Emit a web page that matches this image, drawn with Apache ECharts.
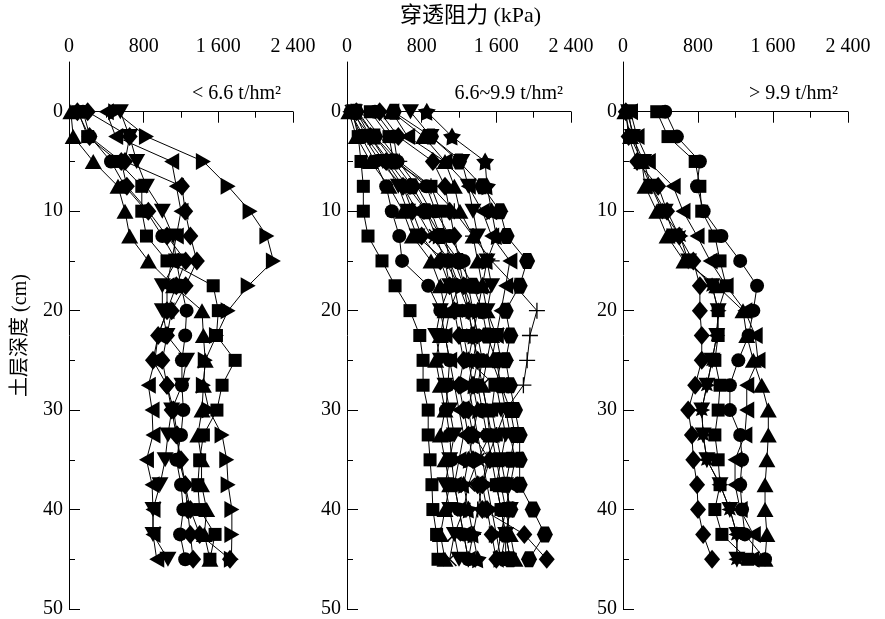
<!DOCTYPE html>
<html>
<head>
<meta charset="utf-8">
<script src="https://cdn.jsdelivr.net/npm/echarts@6/dist/echarts.min.js"></script>
<style>
  html, body { margin: 0; padding: 0; background: #fff; }
  #main { width: 885px; height: 619px; }
</style>
</head>
<body>
<div id="main"></div>
<script>
// 深度 (cm)
var depth = [0, 2.5, 5, 7.5, 10, 12.5, 15, 17.5, 20, 22.5, 25, 27.5, 30, 32.5, 35, 37.5, 40, 42.5, 45];
var panelTitles = ['< 6.6 t/hm²', '6.6~9.9 t/hm²', '> 9.9 t/hm²'];

// 第一组 < 6.6 t/hm2 ---------------
var p1Up      = [20, 45, 260, 525, 600, 650, 850, 1120, 1425, 1440, 1460, 1440, 1425, 1380, 1420, 1420, 1475, 1450, 1510];
var p1Rect    = [100, 200, 525, 780, 780, 830, 1050, 1545, 1600, 1580, 1780, 1640, 1585, 1440, 1400, 1380, 1400, 1565, 1510];
var p1Circle  = [150, 225, 450, 600, 830, 1000, 1150, 1200, 1260, 1245, 1210, 1210, 1225, 1200, 1150, 1200, 1225, 1190, 1245];
var p1Diamond = [200, 650, 600, 1210, 1245, 1300, 1370, 1250, 1100, 1050, 1000, 1050, 1100, 1150, 1200, 1245, 1300, 1400, 1725];
var p1Diamond2 = [90, 220, 560, 620, 850, 1050, 1250, 1150, 1050, 955, 900, 1050, 1120, 1160, 1180, 1245, 1270, 1300, 1330];
var p1Down    = [550, 650, 725, 830, 1000, 1115, 1150, 1000, 1000, 1050, 1260, 1210, 1100, 1060, 1030, 975, 900, 900, 1060];
var p1Left    = [400, 500, 1100, 1150, 1200, 1150, 1100, 1050, 1050, 955, 920, 850, 890, 900, 830, 890, 900, 900, 940];
var p1Right   = [500, 830, 1440, 1705, 1940, 2120, 2190, 1920, 1705, 1580, 1460, 1440, 1500, 1640, 1690, 1705, 1745, 1745, 1740];

// 第二组 6.6~9.9 t/hm2 ---------------
var p2Rect     = [60, 120, 150, 175, 175, 225, 375, 515, 675, 780, 815, 815, 870, 870, 890, 910, 920, 960, 975];
var p2Circle   = [40, 150, 300, 420, 480, 560, 590, 870, 1000, 1050, 1100, 1080, 1060, 1100, 1120, 1150, 1200, 1250, 1300];
var p2Diamond  = [100, 250, 420, 600, 700, 800, 1000, 1100, 1150, 1200, 1250, 1200, 1250, 1300, 1350, 1400, 1450, 1900, 2140];
var p2Up       = [480, 820, 1050, 1150, 1210, 1350, 1400, 1450, 1500, 1550, 1500, 1450, 1500, 1550, 1600, 1650, 1700, 1750, 1800];
var p2Down     = [680, 900, 1230, 1300, 1350, 1400, 1500, 1550, 1500, 1600, 1650, 1600, 1650, 1700, 1650, 1700, 1750, 1700, 1650];
var p2Left     = [480, 650, 1050, 1300, 1450, 1550, 1745, 1700, 1650, 1600, 1550, 1650, 1700, 1750, 1800, 1750, 1700, 1650, 1600];
var p2Star     = [855, 1125, 1480, 1500, 1550, 1600, 1500, 1450, 1400, 1350, 1300, 1350, 1400, 1350, 1300, 1250, 1300, 1350, 1400];
var p2Hex      = [500, 900, 1200, 1450, 1640, 1710, 1930, 1850, 1700, 1750, 1700, 1745, 1800, 1850, 1850, 1850, 1990, 2120, 1950];
var p2Plus     = [150, 350, 560, 900, 1150, 1350, 1550, 1800, 2035, 1960, 1930, 1890, 1700, 1600, 1500, 1450, 1400, 1350, 1300];
var p2Rect2    = [250, 450, 500, 900, 1000, 1050, 1100, 1150, 1200, 1250, 1300, 1585, 1550, 1600, 1650, 1600, 1650, 1700, 1750];
var p2Circle2  = [300, 500, 540, 850, 950, 1100, 1250, 1300, 1350, 1400, 1450, 1400, 1450, 1500, 1550, 1600, 1650, 1700, 1700];
var p2Diamond2 = [350, 550, 920, 1050, 1100, 1150, 1200, 1250, 1300, 1350, 1400, 1350, 1300, 1350, 1530, 1450, 1500, 1550, 1600];
var p2Up2      = [20, 100, 250, 450, 600, 700, 900, 1000, 1050, 1000, 950, 1000, 1050, 1000, 1050, 1100, 1050, 1000, 1050];
var p2Down2    = [80, 200, 400, 550, 650, 750, 1050, 1100, 1000, 950, 1000, 1050, 1100, 1150, 1100, 1050, 1100, 1150, 1200];
var p2Left2    = [30, 180, 350, 600, 750, 900, 1100, 1200, 1100, 1050, 1100, 1150, 1200, 1250, 1200, 1150, 1200, 1250, 1300];
var p2Right    = [120, 300, 550, 750, 900, 1000, 1150, 1250, 1350, 1400, 1350, 1300, 1350, 1400, 1450, 1500, 1550, 1600, 1650];
var p2Cross    = [50, 250, 450, 650, 850, 950, 1050, 1200, 1300, 1350, 1400, 1450, 1500, 1530, 1400, 1300, 1250, 1150, 1100];
var p2Hex2     = [100, 300, 500, 700, 850, 1000, 1200, 1350, 1450, 1500, 1600, 1650, 1750, 1800, 1750, 1700, 1750, 1700, 1750];

// 第三组 > 9.9 t/hm2 ---------------
var p3Burst   = [40, 120, 180, 300, 420, 610, 695, 950, 1015, 1000, 950, 895, 840, 855, 895, 1035, 1140, 1215, 1215];
var p3Rect    = [360, 480, 770, 820, 840, 980, 1035, 1100, 1015, 1015, 980, 1035, 1015, 980, 1015, 1035, 980, 1055, 1330];
var p3Circle  = [450, 575, 820, 790, 860, 1050, 1250, 1430, 1390, 1340, 1230, 1140, 1140, 1250, 1270, 1250, 1270, 1300, 1515];
var p3Diamond = [30, 60, 150, 375, 470, 600, 750, 820, 820, 840, 840, 770, 695, 735, 750, 790, 800, 855, 950];
var p3Up      = [20, 80, 200, 235, 360, 470, 650, 1000, 1280, 1320, 1390, 1480, 1550, 1550, 1535, 1515, 1515, 1535, 1515];
var p3Down    = [60, 100, 220, 300, 450, 550, 700, 950, 1015, 1000, 950, 895, 840, 855, 895, 1035, 1140, 1215, 1215];
var p3Left    = [80, 150, 270, 535, 640, 790, 930, 1100, 1300, 1410, 1440, 1320, 1320, 1300, 1195, 1195, 1250, 1390, 1375];

// 符号样式
function burstPath(n) {
    var s = 'path://';
    for (var i = 0; i < n * 2; i++) {
        var r = i % 2 === 0 ? 10 : 5.5;
        var a = Math.PI * i / n;
        s += (i === 0 ? 'M' : 'L') + (r * Math.sin(a)).toFixed(2) + ',' + (-r * Math.cos(a)).toFixed(2) + ' ';
    }
    return s + 'Z';
}
var SYM = {
    rect:    {symbol: 'rect', size: 13},
    circle:  {symbol: 'circle', size: 14},
    diamond: {symbol: 'diamond', size: [16, 19]},
    up:      {symbol: 'triangle', size: [17, 15]},
    down:    {symbol: 'triangle', size: [17, 15], rotate: 180},
    left:    {symbol: 'triangle', size: [17, 15], rotate: 90},
    right:   {symbol: 'triangle', size: [17, 15], rotate: -90},
    star:    {symbol: burstPath(5), size: 18},
    burst:   {symbol: burstPath(8), size: 17},
    hex:     {symbol: 'path://M-5,-8.66 L5,-8.66 L10,0 L5,8.66 L-5,8.66 L-10,0 Z', size: 16},
    plus:    {symbol: 'path://M-10,-0.8 L10,-0.8 L10,0.8 L-10,0.8 Z M-0.8,-10 L0.8,-10 L0.8,10 L-0.8,10 Z', size: 16},
    cross:   {symbol: 'path://M-10,-0.8 L10,-0.8 L10,0.8 L-10,0.8 Z M-0.8,-10 L0.8,-10 L0.8,10 L-0.8,10 Z', size: 19, rotate: 45}
};

var panels = [
    [[p1Up, 'up'], [p1Rect, 'rect'], [p1Circle, 'circle'], [p1Diamond, 'diamond'], [p1Diamond2, 'diamond'],
     [p1Down, 'down'], [p1Left, 'left'], [p1Right, 'right']],
    [[p2Rect, 'rect'], [p2Circle, 'circle'], [p2Diamond, 'diamond'], [p2Up, 'up'], [p2Down, 'down'], [p2Left, 'left'],
     [p2Star, 'star'], [p2Hex, 'hex'], [p2Plus, 'plus'], [p2Rect2, 'rect'], [p2Circle2, 'circle'], [p2Diamond2, 'diamond'],
     [p2Up2, 'up'], [p2Down2, 'down'], [p2Left2, 'left'], [p2Right, 'right'], [p2Cross, 'cross'], [p2Hex2, 'hex']],
    [[p3Burst, 'burst'], [p3Rect, 'rect'], [p3Circle, 'circle'], [p3Diamond, 'diamond'], [p3Up, 'up'], [p3Down, 'down'],
     [p3Left, 'left']]
];

var FONT = 'Liberation Serif, Noto Sans CJK SC';
var gridLeft = [69, 347, 623];
var gridWidth = [224, 224, 225];

var grids = [], xAxes = [], xMinor = [], yAxes = [], yMinor = [], series = [];
for (var g = 0; g < 3; g++) {
    grids.push({left: gridLeft[g], top: 62, width: gridWidth[g], height: 547});
    xAxes.push({
        type: 'value', gridIndex: g, position: 'top', min: 0, max: 2400, interval: 800,
        axisLine: {lineStyle: {color: '#000', width: 1}},
        axisTick: {inside: true, length: 11, lineStyle: {color: '#000'}},
        splitLine: {show: false},
        axisLabel: {
            color: '#000', fontSize: 20, fontFamily: FONT, margin: 5,
            formatter: function (v) {
                return v >= 1000 ? Math.floor(v / 1000) + ' ' + String(v % 1000).padStart(3, '0') : String(v);
            }
        }
    });
    // 次刻度
    xMinor.push({
        type: 'value', gridIndex: g, position: 'top', offset: 0, min: 0, max: 2400, interval: 400,
        axisLine: {show: false},
        axisTick: {inside: true, length: 6, customValues: [400, 1200, 2000], lineStyle: {color: '#000'}},
        axisLabel: {show: false},
        splitLine: {show: false}
    });
    yAxes.push({
        type: 'value', gridIndex: g, position: 'left', inverse: true, min: -5, max: 50, interval: 5,
        axisLine: {lineStyle: {color: '#000', width: 1}},
        axisTick: {inside: true, length: 11, customValues: [0, 10, 20, 30, 40, 50], lineStyle: {color: '#000'}},
        axisLabel: {color: '#000', fontSize: 20, fontFamily: FONT, margin: 6, customValues: [0, 10, 20, 30, 40, 50]},
        splitLine: {show: false},
        name: g === 0 ? '土层深度 (cm)' : '',
        nameLocation: 'middle', nameGap: 38, nameRotate: 90,
        nameTextStyle: {color: '#000', fontSize: 20, fontFamily: FONT}
    });
    yMinor.push({
        type: 'value', gridIndex: g, position: 'left', offset: 0, inverse: true, min: -5, max: 50, interval: 5,
        axisLine: {show: false},
        axisTick: {inside: true, length: 6, customValues: [5, 15, 25, 35, 45], lineStyle: {color: '#000'}},
        axisLabel: {show: false},
        splitLine: {show: false}
    });
    panels[g].forEach(function (item) {
        var s = SYM[item[1]];
        series.push({
            type: 'line', xAxisIndex: g, yAxisIndex: g,
            data: item[0].map(function (v, i) { return [v, depth[i]]; }),
            symbol: s.symbol, symbolSize: s.size, symbolRotate: s.rotate || 0,
            showAllSymbol: true,
            lineStyle: {color: '#000', width: 1},
            itemStyle: {color: '#000', opacity: 1},
            emphasis: {disabled: true}
        });
    });
}

var myChart = echarts.init(document.getElementById('main'), null, {renderer: 'canvas'});
var option = {
    backgroundColor: '#fff',
    animation: false,
    grid: grids,
    xAxis: xAxes.concat(xMinor),
    yAxis: yAxes.concat(yMinor),
    series: series,
    graphic: [
        {type: 'text', left: 400, top: 5, style: {text: '穿透阻力 (kPa)', fontSize: 22, fontFamily: FONT, fill: '#000'}},
        {type: 'text', right: 885 - 281, top: 84, style: {text: panelTitles[0], fontSize: 20, fontFamily: FONT, fill: '#000'}},
        {type: 'text', right: 885 - 563, top: 84, style: {text: panelTitles[1], fontSize: 20, fontFamily: FONT, fill: '#000'}},
        {type: 'text', right: 885 - 838, top: 84, style: {text: panelTitles[2], fontSize: 20, fontFamily: FONT, fill: '#000'}}
    ]
};
myChart.setOption(option);

window.onresize = function () {
    myChart.resize();
};
</script>
</body>
</html>
